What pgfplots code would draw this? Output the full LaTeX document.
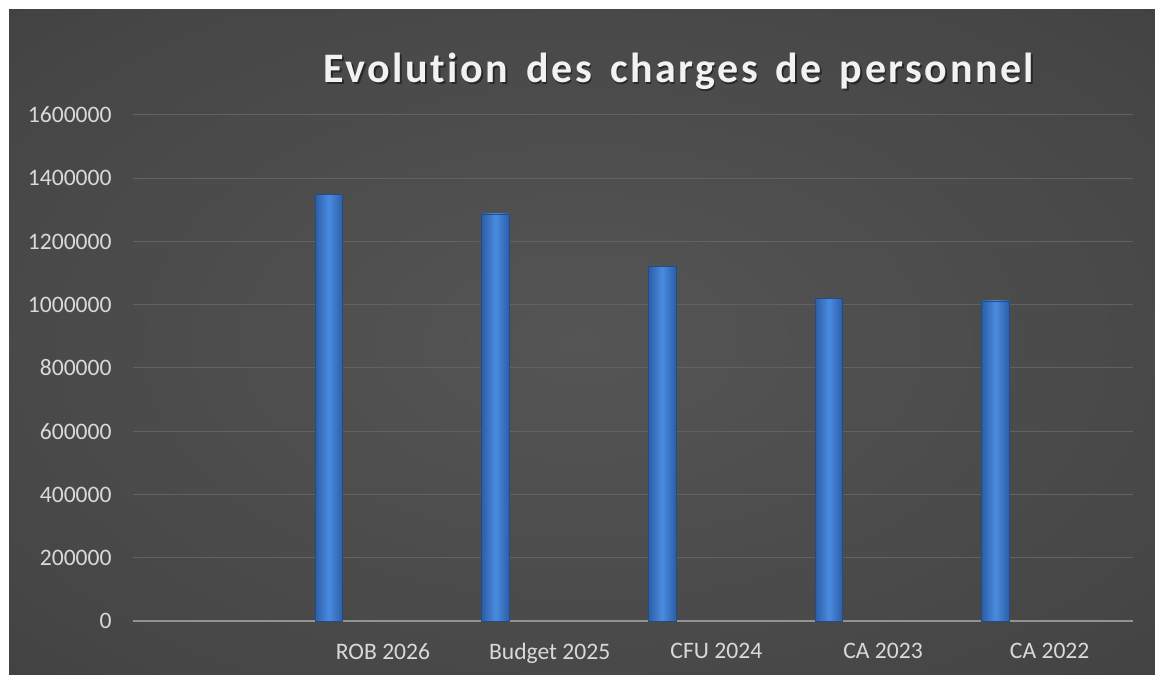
\documentclass[border=0pt]{standalone}
\usepackage{fontspec}
\setmainfont{Carlito}
\newfontfamily\titlefont{Carlito}[LetterSpace=6, WordSpace=1.5, Ligatures=NoCommon]
\usepackage{pgfplots}
\pgfplotsset{compat=1.18}

\definecolor{bgin}{HTML}{555555}
\definecolor{bgmid}{HTML}{454545}
\definecolor{bgout}{HTML}{232323}
\definecolor{barmid}{HTML}{4A8BE0}
\definecolor{baredge}{HTML}{2C5EA6}
\definecolor{gridgray}{HTML}{626262}
\definecolor{axisgray}{HTML}{929292}
\definecolor{labelgray}{HTML}{D9D9D9}
\definecolor{titlecol}{HTML}{F2F2F2}

\pgfdeclareradialshading{chartbg}{\pgfpoint{0bp}{0bp}}{%
  color(0bp)=(bgin); color(32bp)=(bgmid); color(72bp)=(bgout)}

\pgfplotsset{
  barstyle/.style={ybar, bar shift=0pt, bar width=0.165,
    draw=baredge!80!black, line width=0.3pt,
    left color=baredge, right color=baredge, middle color=barmid},
}

\begin{document}
\begin{tikzpicture}
% white margin + dark chart area
\path[fill=white] (0,0) rectangle (577.5pt,337pt);
\shade[shading=chartbg] (4.5pt,0) rectangle (577.5pt,332pt);

\begin{axis}[
  at={(66.5pt,26.5pt)}, anchor=south west,
  scale only axis, width=500pt, height=253pt,
  xmin=0, xmax=6,
  ymin=0, ymax=1600000,
  axis lines*=left,
  y axis line style={draw=none},
  x axis line style={draw=axisgray, line width=1pt},
  xtick={1.5,2.5,3.5,4.5,5.5},
  xticklabels={ROB 2026, Budget 2025, CFU 2024, CA 2023, CA 2022},
  ytick={0,200000,400000,600000,800000,1000000,1200000,1400000,1600000},
  major tick length=0pt,
  ymajorgrids,
  grid style={draw=gridgray, line width=0.5pt},
  scaled y ticks=false,
  ticklabel style={font=\fontsize{11.8}{13}\selectfont, text=labelgray, inner sep=0pt},
  yticklabel style={xshift=-10.5pt,
    /pgf/number format/fixed,
    /pgf/number format/precision=0,
    /pgf/number format/1000 sep={},
    /pgf/number format/assume math mode=true},
  xticklabel style={yshift=-11pt},
]
\addplot[barstyle] coordinates {(1.175,1350000)};
\addplot[barstyle] coordinates {(2.175,1287000)};
\addplot[barstyle] coordinates {(3.175,1122000)};
\addplot[barstyle] coordinates {(4.175,1021000)};
\addplot[barstyle] coordinates {(5.175,1012000)};
\end{axis}

\node[anchor=base, font=\titlefont\bfseries\fontsize{21}{24}\selectfont, text=black, opacity=0.45]
  at (340.2pt,294.9pt) {Evolution des charges de personnel};
\node[anchor=base, font=\titlefont\bfseries\fontsize{21}{24}\selectfont, text=titlecol]
  at (339.5pt,295.5pt) {Evolution des charges de personnel};
\end{tikzpicture}
\end{document}
